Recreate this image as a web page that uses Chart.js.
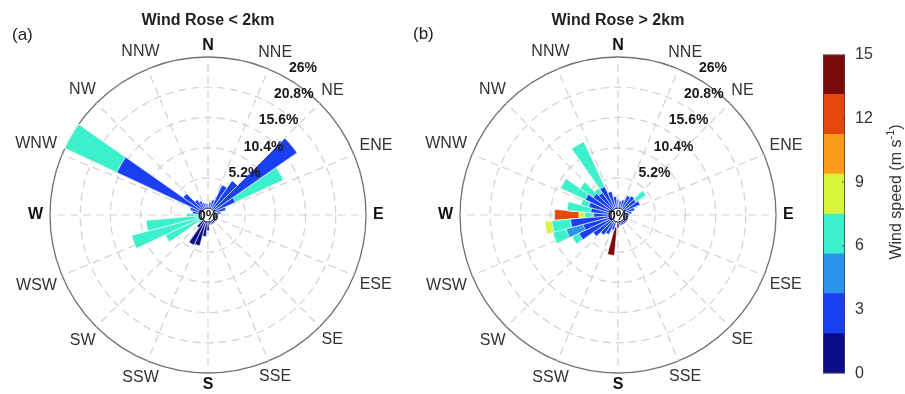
<!DOCTYPE html>
<html><head><meta charset="utf-8">
<script src="https://cdn.jsdelivr.net/npm/chart.js@4.4.1/dist/chart.umd.min.js"></script>
<style>
html,body{margin:0;padding:0;background:#fff;width:905px;height:394px;overflow:hidden}
canvas{position:absolute}
#c1{left:0;top:0}
#c2{left:410px;top:0}
#cb{left:815px;top:35px}
</style></head><body>
<canvas id="c1" width="416" height="394"></canvas>
<canvas id="c2" width="416" height="394"></canvas>
<canvas id="cb" width="90" height="358"></canvas>
<script>
// ---------- data ----------
const DIRECTION_LABELS = ['N','NNE','NE','ENE','E','ESE','SE','SSE','S','SSW','SW','WSW','W','WNW','NW','NNW'];
const BIN_CENTERS = [0,10,20,30,40,50,60,70,80,90,100,110,120,130,140,150,160,170,180,190,200,210,220,230,240,250,260,270,280,290,300,310,320,330,340,350];
const RADIAL_TICKS = [0, 5.2, 10.4, 15.6, 20.8, 26];
const SPEED_EDGES = [0, 1.875, 3.75, 5.625, 7.5, 9.375, 11.25, 13.125, 15];
const COLORBAR_TICKS = [0, 3, 6, 9, 12, 15];
const SPEED_COLORS = ['#0c0c88','#1a3ff0','#2a93ec','#3cf0cb','#d8f53a','#fb9b1a','#e4470f','#7b0a0a'];

// (a) Wind Rose < 2km : frequency (%) per 10-degree bin, one array per speed class
const low_c0 = [0,0,0,0,0,0,0,0,0,0.5,0.5,0.5,0.5,0.5,0.5,0.5,0.5,0.5,1.5,2.5,4.3,4.5,1.5,0,0,0,0,0,0,0,0,0,0,0,0,0];
const low_c1 = [0.8,1.0,1.5,4.5,6.0,17.5,4.0,2.0,1.0,0,0,0,0,0,0,0,0,0,0,0,0,0,0,0,0,0,0,0,1.5,2.0,16.1,4.0,2.0,1.5,1.0,0.8];
const low_c2 = [0,0,0,0,0,0,0,0,0,0,0,0,0,0,0,0,0,0,0,0,0,0,0,0,0,0,0,0,0,0,0,0,0,0,0,0];
const low_c3 = [0,0,0,0,0,0,9.1,0,0,0,0,0,0,0,0,0,0,0,0,0,0,0,0,0.8,6.9,12.4,9.5,2.5,0,0,9.9,0,0,0,0,0];
const low_c4 = [0,0,0,0,0,0,0,0,0,0,0,0,0,0,0,0,0,0,0,0,0,0,0,0,0,0,0,0,0,0,0,0,0,0,0,0];
const low_c5 = [0,0,0,0,0,0,0,0,0,0,0,0,0,0,0,0,0,0,0,0,0,0,0,0,0,0,0,0,0,0,0,0,0,0,0,0];
const low_c6 = [0,0,0,0,0,0,0,0,0,0,0,0,0,0,0,0,0,0,0,0,0,0,0,0,0,0,0,0,0,0,0,0,0,0,0,0];
const low_c7 = [0,0,0,0,0,0,0,0,0,0,0,0,0,0,0,0,0,0,0,0,0,0,0,0,0,0,0,0,0,0,0,0,0,0,0,0];

// (b) Wind Rose > 2km
const high_c0 = [0,0,0,0,0,0,0,0,0,0,0.6,0.6,0.6,0.6,0.6,0.6,0.6,0.6,1.0,0,0,0,0,0,0,0,0,0,0,0,0,0,0,0,0,0];
const high_c1 = [1.5,1.2,1.5,2.5,2.8,2.6,3.0,1.8,1.2,0.8,0,0,0,0,0,0,0,0,0,0,1.5,2.5,3.0,4.0,6.2,5.0,7.0,3.0,3.5,4.0,5.0,4.0,3.5,4.2,3.0,2.0];
const high_c2 = [0,0,0,0,0,0,0,0,0,0,0,0,0,0,0,0,0,0,0,0,0,0,0,0,0,3.0,0,0,0,0,0,0,0,0,0,0];
const high_c3 = [0,0,0,0,0,2.1,0,0,0,0,0,0,0,0,0,0,0,0,0,0,0,0,0,0,1.3,2.4,3.2,1.5,4.1,1.4,4.7,2.8,1.0,8.5,0,0];
const high_c4 = [0,0,0,0,0,0,0,0,0,0,0,0,0,0,0,0,0,0,0,0,0,0,0,0,0,0,1.2,1.0,0,0,0,0,0,0,0,0];
const high_c5 = [0,0,0,0,0,0,0,0,0,0,0,0,0,0,0,0,0,0,0,0,0,0,0,0,0,0,0,0,0,0,0,0,0,0,0,0];
const high_c6 = [0,0,0,0,0,0,0,0,0,0,0,0,0,0,0,0,0,0,0,0,0,0,0,0,0,0,0,4.2,0,0,0,0,0,0,0,0];
const high_c7 = [0,0,0,0,0,0,0,0,0,0,0,0,0,0,0,0,0,0,0,5.8,0,0,0,0,0,0,0,0,0,0,0,0,0,0,0,0];

// ---------- drawing ----------
const FAMILY = '"Liberation Sans", Arial, Helvetica, sans-serif';
Chart.defaults.font.family = FAMILY;

const BIN_WIDTH = 360 / BIN_CENTERS.length;

function roseDecor(tag) {
  return {
    id: 'roseDecor',
    afterDatasetsDraw(chart) {
      const s = chart.scales.r, g = chart.ctx;
      const cx = s.xCenter, cy = s.yCenter, R = s.drawingArea;
      const r0 = s.getDistanceFromCenterForValue(0);
      g.save();
      // centre hole
      g.beginPath(); g.arc(cx, cy, r0, 0, 2 * Math.PI);
      g.fillStyle = '#fff'; g.fill();
      g.lineWidth = 1; g.strokeStyle = '#1b1b50'; g.stroke();
      // radial tick labels along 30 degrees
      const a = 30 * Math.PI / 180;
      g.fillStyle = '#1a1a1a';
      g.font = 'bold 14px ' + FAMILY;
      RADIAL_TICKS.forEach(v => {
        if (v === 0) {
          g.textAlign = 'center'; g.textBaseline = 'middle';
          g.fillText('0%', cx, cy + 1);
          return;
        }
        const d = s.getDistanceFromCenterForValue(v);
        g.textAlign = 'left'; g.textBaseline = 'bottom';
        g.fillText(String(v) + '%', cx + d * Math.sin(a) + 2, cy - d * Math.cos(a) - 3);
      });
      // direction labels
      DIRECTION_LABELS.forEach((lab, i) => {
        const bold = i % 4 === 0;
        g.font = (bold ? 'bold ' : '') + '16px ' + FAMILY;
        g.fillStyle = bold ? '#111' : '#333';
        const ang = s.getIndexAngle(i);
        const w = g.measureText(lab).width;
        const ext = Math.abs(Math.sin(ang)) * w / 2 + Math.abs(Math.cos(ang)) * 4.5;
        const p = s.getPointPosition(i, R + 7 + ext);
        g.textAlign = 'center'; g.textBaseline = 'middle';
        g.fillText(lab, p.x, p.y);
      });
      // panel tag
      g.font = '17px ' + FAMILY; g.fillStyle = '#222';
      g.textAlign = 'left'; g.textBaseline = 'middle';
      g.fillText(tag.text, tag.x, tag.y);
      g.restore();
    }
  };
}

function buildRose(id, classes, title, tag) {
  const n = BIN_CENTERS.length;
  let running = new Array(n).fill(0);
  const cum = classes.map(arr => { running = running.map((v, i) => v + arr[i]); return running.slice(); });
  // N bin split in two halves so that every bar is centred on its direction
  const expand = arr => [arr[0], ...arr.slice(1), arr[0]];
  const datasets = cum.map((arr, k) => ({
    data: expand(arr),
    backgroundColor: SPEED_COLORS[k],
    borderColor: 'rgba(255,255,255,0.85)',
    borderWidth: 0.7,
    angle: c => (c.dataIndex === 0 || c.dataIndex === n) ? BIN_WIDTH / 2 : BIN_WIDTH
  }));
  const last = RADIAL_TICKS.length - 1;
  return new Chart(document.getElementById(id), {
    type: 'polarArea',
    data: { labels: DIRECTION_LABELS, datasets },
    options: {
      responsive: false, animation: false, devicePixelRatio: 1,
      layout: { padding: { left: 50, right: 50, top: 0, bottom: 21 } },
      plugins: {
        legend: { display: false }, tooltip: { enabled: false },
        title: { display: true, text: title, color: '#222',
          font: { size: 16, weight: 'bold', family: FAMILY, lineHeight: 1.2 },
          padding: { top: 11.4, bottom: 26.4 } }
      },
      scales: {
        r: {
          min: -1.2, max: 26, startAngle: 0,
          afterBuildTicks: sc => { sc.ticks = RADIAL_TICKS.map(v => ({ value: v })); },
          ticks: { display: false },
          grid: { circular: true,
            color: c => c.index === 0 ? 'rgba(0,0,0,0)' : (c.index === last ? '#707070' : '#d2d2d2'),
            lineWidth: c => c.index === last ? 1.3 : 1.2 },
          border: { dash: c => c.index === last ? [] : [8, 5] },
          angleLines: { display: true, color: '#d2d2d2', lineWidth: 1.2, borderDash: [8, 5] },
          pointLabels: { display: false }
        }
      }
    },
    plugins: [roseDecor(tag)]
  });
}

buildRose('c1', [low_c0, low_c1, low_c2, low_c3, low_c4, low_c5, low_c6, low_c7], 'Wind Rose < 2km', { text: '(a)', x: 12, y: 35 });
buildRose('c2', [high_c0, high_c1, high_c2, high_c3, high_c4, high_c5, high_c6, high_c7], 'Wind Rose > 2km', { text: '(b)', x: 3, y: 34 });

// colour bar
const cbDecor = {
  id: 'cbDecor',
  afterDraw(chart) {
    const g = chart.ctx, a = chart.chartArea, y = chart.scales.y;
    g.save();
    g.strokeStyle = '#444'; g.lineWidth = 0.8;
    g.strokeRect(a.left + 0.5, a.top + 0.5, a.right - a.left - 1, a.bottom - a.top - 1);
    COLORBAR_TICKS.slice(1, -1).forEach(v => {
      const py = y.getPixelForValue(v);
      g.beginPath(); g.moveTo(a.right - 3, py); g.lineTo(a.right, py); g.stroke();
    });
    // rotated title with superscript
    g.translate(82, 157); g.rotate(-Math.PI / 2);
    g.fillStyle = '#333'; g.textBaseline = 'middle'; g.textAlign = 'left';
    const f1 = '16px ' + FAMILY, f2 = '11px ' + FAMILY;
    const p1 = 'Wind speed (m s', p2 = '-1', p3 = ')';
    g.font = f1; const w1 = g.measureText(p1).width, w3 = g.measureText(p3).width;
    g.font = f2; const w2 = g.measureText(p2).width;
    let x = -(w1 + w2 + w3) / 2;
    g.font = f1; g.fillText(p1, x, 0); x += w1;
    g.font = f2; g.fillText(p2, x, -6); x += w2;
    g.font = f1; g.fillText(p3, x, 0);
    g.restore();
  }
};

new Chart(document.getElementById('cb'), {
  type: 'bar',
  data: {
    labels: [''],
    datasets: SPEED_COLORS.map((col, k) => ({
      data: [SPEED_EDGES[k + 1] - SPEED_EDGES[k]],
      backgroundColor: col, borderWidth: 0, barPercentage: 1, categoryPercentage: 1
    }))
  },
  options: {
    responsive: false, animation: false, devicePixelRatio: 1,
    layout: { padding: { left: 8, top: 10, bottom: 14, right: 0 } },
    plugins: { legend: { display: false }, tooltip: { enabled: false } },
    scales: {
      x: { display: false, stacked: true },
      y: {
        stacked: true, position: 'right', min: 0, max: 15,
        afterBuildTicks: sc => { sc.ticks = COLORBAR_TICKS.map(v => ({ value: v })); },
        afterFit: sc => { sc.width = 60; },
        ticks: { padding: 10, color: '#333', font: { size: 16, family: FAMILY } },
        grid: { display: false, drawTicks: false },
        border: { display: false }
      }
    }
  },
  plugins: [cbDecor]
});
</script>
</body></html>
